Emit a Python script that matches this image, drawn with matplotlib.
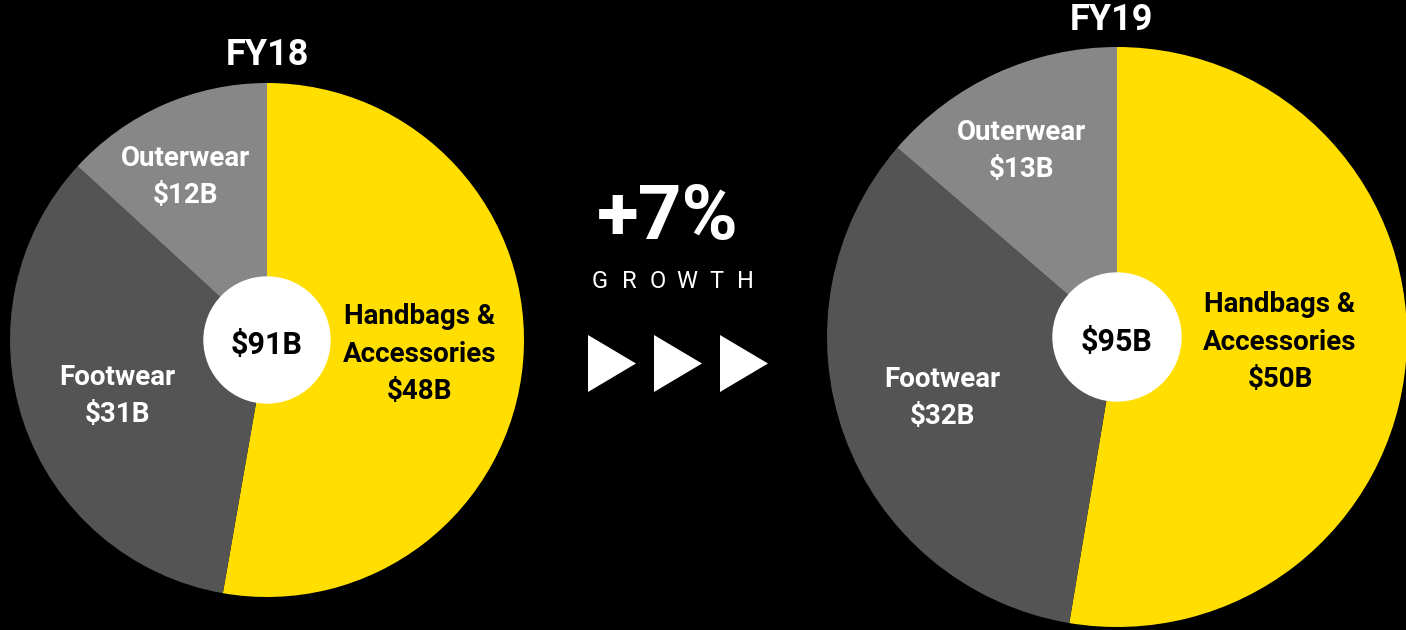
import matplotlib.pyplot as plt
from matplotlib.patches import Circle, Polygon

plt.rcParams['font.family'] = ['Roboto', 'DejaVu Sans']

categories = ["Handbags &\nAccessories", "Footwear", "Outerwear"]
fy18 = [48, 31, 12]
fy19 = [50, 32, 13]
totals = [91, 95]
years = ["FY18", "FY19"]
growth = "+7%"

colors = ['#FFDE00', '#545454', '#878787']
text_colors = ['black', 'white', 'white']

W, H = 1406, 630
fig = plt.figure(figsize=(W / 100, H / 100), dpi=100, facecolor='black')
ax = fig.add_axes([0, 0, 1, 1])
ax.set_facecolor('black')

# pie layout in pixel units (y measured from bottom)
pies = [
    dict(vals=fy18, cx=267, cy=H - 340, r=257, hole=63, title_x=267, title_y=H - 55,
         lab=[(420, H - 354), (117, H - 396), (185, H - 177)]),
    dict(vals=fy19, cx=1117, cy=H - 337, r=290, hole=64, title_x=1111, title_y=H - 20,
         lab=[(1280, H - 342), (942, H - 398), (1022, H - 151)]),
]

for p, total, year in zip(pies, totals, years):
    ax.pie(p['vals'], colors=colors, startangle=90, counterclock=False,
           center=(p['cx'], p['cy']), radius=p['r'], frame=True,
           wedgeprops=dict(linewidth=0))
    ax.add_patch(Circle((p['cx'], p['cy']), p['hole'], color='white', zorder=3))
    ax.text(p['cx'], p['cy'] - 5, f"${total}B", ha='center', va='center',
            fontsize=22, fontweight='bold', color='black', zorder=4)
    ax.text(p['title_x'], p['title_y'], year, ha='center', va='center',
            fontsize=26, fontweight='bold', color='white')
    for cat, v, (x, y), tc in zip(categories, p['vals'], p['lab'], text_colors):
        ax.text(x, y, f"{cat}\n${v}B", ha='center', va='center',
                fontsize=20, fontweight='bold', color=tc, linespacing=1.5,
                zorder=4)

# growth callout between the pies
ax.text(668, H - 218, growth, ha='center', va='center', fontsize=55,
        fontweight='bold', color='white')
for i, ch in enumerate("GROWTH"):
    ax.text(600 + i * 29, H - 282, ch, ha='center', va='center',
            fontsize=17, color='white')
for x0 in [588, 654, 720]:
    ax.add_patch(Polygon([(x0, H - 335), (x0, H - 392), (x0 + 48, H - 363.5)],
                         closed=True, color='white', linewidth=0))

ax.set_xlim(0, W)
ax.set_ylim(0, H)
ax.set_aspect('equal')
ax.axis('off')

fig.savefig('out.png', dpi=100, facecolor='black')
